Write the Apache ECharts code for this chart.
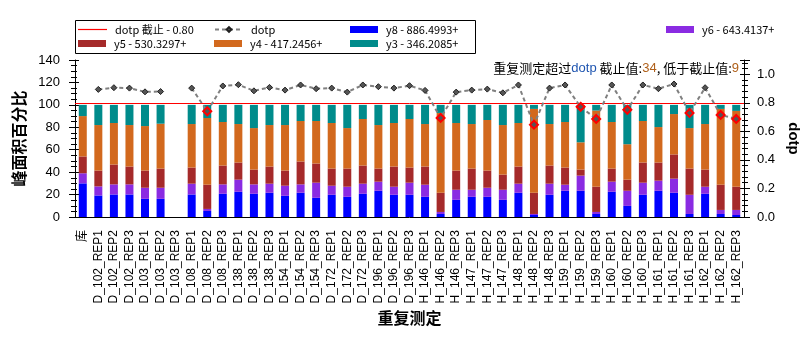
<!DOCTYPE html>
<html>
<head>
<meta charset="utf-8">
<script src="https://cdn.jsdelivr.net/npm/echarts@6/dist/echarts.min.js"></script>
<style>html,body{margin:0;padding:0;background:#fff}#chart{width:812px;height:339px}</style>
</head>
<body>
<div id="chart"></div>
<script>
// ---- data ----
const categories = ['库',
  'D_102_REP1','D_102_REP2','D_102_REP3','D_103_REP1','D_103_REP2','D_103_REP3',
  'D_108_REP1','D_108_REP2','D_108_REP3','D_138_REP1','D_138_REP2','D_138_REP3',
  'D_154_REP1','D_154_REP2','D_154_REP3','D_172_REP1','D_172_REP2','D_172_REP3',
  'D_196_REP1','D_196_REP2','D_196_REP3','H_146_REP1','H_146_REP2','H_146_REP3',
  'H_147_REP1','H_147_REP2','H_147_REP3','H_148_REP1','H_148_REP2','H_148_REP3',
  'H_159_REP1','H_159_REP2','H_159_REP3','H_160_REP1','H_160_REP2','H_160_REP3',
  'H_161_REP1','H_161_REP2','H_161_REP3','H_162_REP1','H_162_REP2','H_162_REP3'];

const y8 = [30.0,19.2,20.1,20.1,16.2,16.2,null,20.1,5.4,20.7,22.5,20.7,21.6,18.9,21.6,17.1,19.8,18.0,20.7,23.4,19.8,19.8,18.0,2.7,15.3,18.0,18.0,15.3,21.6,1.8,19.8,23.4,23.4,2.7,22.5,9.9,19.8,23.4,21.6,2.7,20.7,2.7,1.8];
const y6 = [9.0,8.1,9.0,9.0,9.9,9.9,null,9.6,1.8,8.4,10.8,8.4,8.1,9.0,7.5,13.5,8.1,9.0,9.0,8.1,7.2,10.8,10.8,1.8,9.0,6.3,8.1,9.0,8.1,0.9,9.9,5.4,13.5,1.8,9.0,13.5,10.8,9.0,12.6,17.1,6.3,3.6,4.5];
const y5 = [15.0,14.1,17.7,15.9,15.3,17.1,null,14.4,21.6,16.8,15.3,13.2,15.3,13.5,20.4,17.1,15.3,16.2,16.2,11.7,18.0,13.5,16.2,17.1,17.1,18.9,15.3,13.5,15.3,18.9,16.2,15.3,5.4,22.5,11.7,9.9,18.0,16.2,21.6,23.4,15.3,22.5,20.7];
const y4 = [36.0,40.6,37.0,37.0,39.7,40.0,null,38.8,59.5,38.8,34.3,37.0,37.0,40.6,36.1,37.9,40.6,36.1,41.5,38.8,38.8,43.3,37.9,71.2,42.4,39.7,45.1,44.2,38.8,74.8,37.0,40.6,24.3,67.9,41.5,31.6,37.0,31.6,36.0,36.1,40.6,67.6,67.6];
const y3 = [10.0,18.0,16.2,18.0,18.9,16.8,null,17.1,11.7,15.3,17.1,20.7,18.0,18.0,14.4,14.4,16.2,20.7,12.6,18.0,16.2,12.6,17.1,7.2,16.2,17.1,13.5,18.0,16.2,3.6,17.1,15.3,33.4,5.1,15.3,35.1,14.4,19.8,8.2,20.7,17.1,3.6,5.4];
const dotp = [null,0.894,0.906,0.903,0.877,0.879,null,0.903,0.741,0.918,0.927,0.884,0.908,0.889,0.925,0.899,0.903,0.875,0.925,0.913,0.903,0.920,0.887,0.694,0.875,0.889,0.896,0.870,0.925,0.647,0.903,0.925,0.772,0.687,0.925,0.751,0.925,0.899,0.932,0.729,0.906,0.715,0.687];
const dotpCutoff = 0.8;
const countAbove = 34;
const countBelow = 9;

const seriesNames = {
  cut: 'dotp 截止 - 0.80', dotp: 'dotp',
  y8: 'y8 - 886.4993+', y6: 'y6 - 643.4137+', y5: 'y5 - 530.3297+',
  y4: 'y4 - 417.2456+', y3: 'y3 - 346.2085+'
};
const colors = { y8:'#0000FF', y6:'#8A2BE2', y5:'#A52A2A', y4:'#D2691E', y3:'#008B8B' };

// ---- chart ----
const FONT = '"Liberation Sans", Arial, "Noto Sans CJK SC", sans-serif';
const CJK = '"Noto Sans CJK SC", "Liberation Sans", sans-serif';
const chart = echarts.init(document.getElementById('chart'), null, {renderer:'canvas'});

function barSeries(key, data) {
  return { name: seriesNames[key], type:'bar', stack:'s', data: data, barWidth: 8,
    itemStyle:{ color: colors[key] }, xAxisIndex:0, yAxisIndex:0, animation:false };
}

const dotpData = dotp.map(v => (v !== null && v < dotpCutoff)
  ? { value: v, symbolSize: 8, itemStyle: { color:'#555555', borderColor:'#FF0000', borderWidth:2 } }
  : v);

function legend(name, left, top, opts) {
  return Object.assign({
    data:[name], left:left, top:top, padding:0, itemGap:0, selectedMode:false,
    itemWidth:28, itemHeight:7,
    textStyle:{ fontSize:11, fontFamily: CJK, color:'#000', padding:[0,0,0,3] }
  }, opts || {});
}

const common = { min:0, splitLine:{show:false} };

const option = {
  backgroundColor:'#fff',
  animation:false,
  grid:{ left:75, right:68, top:60, bottom:122, containLabel:false },
  legend:[
    legend(seriesNames.cut, 78, 24, { icon:'rect', itemHeight:1.2, itemWidth:29 }),
    legend(seriesNames.dotp, 214, 24, { itemWidth:28, itemHeight:6 }),
    legend(seriesNames.y8, 350, 24, { icon:'rect' }),
    legend(seriesNames.y6, 666, 24, { icon:'rect' }),
    legend(seriesNames.y5, 78, 38, { icon:'rect' }),
    legend(seriesNames.y4, 214, 38, { icon:'rect' }),
    legend(seriesNames.y3, 350, 38, { icon:'rect' })
  ],
  xAxis:[
    { type:'category', data:categories, position:'bottom', boundaryGap:true,
      axisLine:{ lineStyle:{ color:'#000', width:1 } },
      axisTick:{ alignWithLabel:true, length:5, inside:false, lineStyle:{color:'#000'} },
      axisLabel:{ rotate:90, interval:0, fontSize:12, margin:13, color:'#000', fontFamily:FONT },
      name:'重复测定', nameLocation:'middle', nameGap:93,
      nameTextStyle:{ fontSize:16, fontWeight:'bold', color:'#000', fontFamily:CJK } },
    { type:'category', data:categories, position:'bottom', boundaryGap:true,
      axisLine:{ show:false },
      axisTick:{ alignWithLabel:true, length:5, inside:true, lineStyle:{color:'#000'} },
      axisLabel:{ show:false } }
  ],
  yAxis:[
    Object.assign({ type:'value', position:'left', max:140, interval:20,
      axisLine:{ show:true, lineStyle:{ color:'#000' } },
      axisTick:{ show:true, length:6, lineStyle:{color:'#000'} },
      minorTick:{ show:true, splitNumber:4, length:4, lineStyle:{color:'#000'} },
      axisLabel:{ fontSize:13, margin:15, color:'#000', fontFamily:FONT },
      name:'峰面积百分比', nameLocation:'middle', nameGap:48, nameRotate:90,
      nameTextStyle:{ fontSize:16, fontWeight:'bold', color:'#000', fontFamily:CJK } }, common),
    Object.assign({ type:'value', position:'right', max:1.1, interval:0.2,
      axisLine:{ show:true, lineStyle:{ color:'#000' } },
      axisTick:{ show:true, length:6, lineStyle:{color:'#000'} },
      minorTick:{ show:true, splitNumber:5, length:4, lineStyle:{color:'#000'} },
      axisLabel:{ fontSize:13, margin:13, color:'#000', fontFamily:FONT,
        formatter: v => (v > 1.05 ? '' : v.toFixed(1)) },
      name:'dotp', nameLocation:'middle', nameGap:38, nameRotate:-90,
      nameTextStyle:{ fontSize:15, fontWeight:'bold', color:'#000', fontFamily:FONT } }, common),
    Object.assign({ type:'value', position:'left', max:140, interval:20,
      axisLine:{ show:false },
      axisTick:{ show:true, inside:true, length:4, lineStyle:{color:'#000'} },
      minorTick:{ show:true, splitNumber:4, length:2, lineStyle:{color:'#000'} },
      axisLabel:{ show:false } }, common),
    Object.assign({ type:'value', position:'right', max:1.1, interval:0.2,
      axisLine:{ show:false },
      axisTick:{ show:true, inside:true, length:4, lineStyle:{color:'#000'} },
      minorTick:{ show:true, splitNumber:5, length:2, lineStyle:{color:'#000'} },
      axisLabel:{ show:false } }, common)
  ],
  series:[
    { name: seriesNames.cut, type:'line', data:[], xAxisIndex:0, yAxisIndex:1,
      symbol:'none', itemStyle:{ color:'#FF0000' }, lineStyle:{ color:'#FF0000', width:1 },
      markLine:{ silent:true, symbol:'none', label:{show:false},
        lineStyle:{ color:'#FF0000', width:1, type:'solid' },
        data:[ { yAxis: dotpCutoff } ] } },
    barSeries('y8', y8),
    barSeries('y6', y6),
    barSeries('y5', y5),
    barSeries('y4', y4),
    barSeries('y3', y3),
    { name: seriesNames.dotp, type:'line', data: dotpData, xAxisIndex:0, yAxisIndex:1,
      connectNulls:false, symbol:'diamond', symbolSize:6, showAllSymbol:true, z:5,
      lineStyle:{ color:'#808080', width:2, type:[4,3] },
      itemStyle:{ color:'#555555', borderColor:'#202020', borderWidth:1 } }
  ],
  graphic:[
    { type:'rect', silent:true, z:-1,
      shape:{ x:75.5, y:20.5, width:400, height:33 },
      style:{ fill:'rgba(0,0,0,0)', stroke:'#000', lineWidth:1 } },
    { type:'text', silent:true, x:739, y:68,
      style:{
        text:'{a|重复测定超过}{b|dotp}{a| 截止值:}{c|' + countAbove + '}{a|, 低于截止值:}{c|' + countBelow + '}',
        align:'right', verticalAlign:'middle',
        rich:{
          a:{ fontSize:13, fontFamily:CJK, fill:'#000' },
          b:{ fontSize:13, fontFamily:FONT, fill:'#1f55b0' },
          c:{ fontSize:13, fontFamily:FONT, fill:'#b0601a' }
        }
      } }
  ]
};
chart.setOption(option);
</script>
</body>
</html>
